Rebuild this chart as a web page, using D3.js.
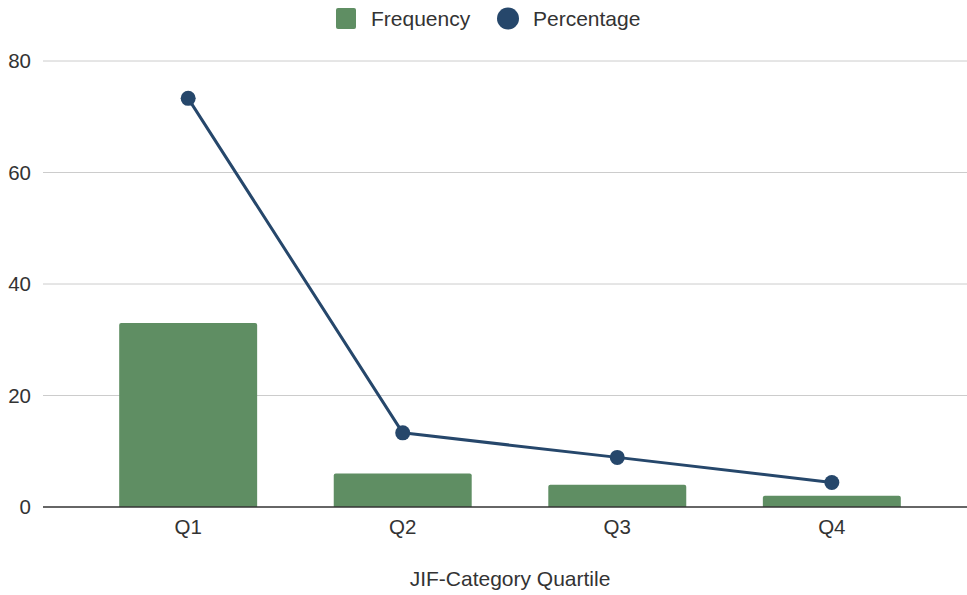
<!DOCTYPE html>
<html>
<head>
<meta charset="utf-8">
<script src="https://cdn.jsdelivr.net/npm/d3@7"></script>
<style>
  html, body { margin: 0; padding: 0; background: #fff; }
  svg { display: block; font-family: "Liberation Sans", Arial, sans-serif; }
</style>
</head>
<body>
<svg id="chart" width="967" height="595"></svg>
<script>
// Journal counts and share (%) by JIF category quartile
const quartiles = ["Q1", "Q2", "Q3", "Q4"];
const frequency = [33, 6, 4, 2];
const percentage = [73.3, 13.3, 8.9, 4.4];
const yTicks = [0, 20, 40, 60, 80];
const seriesNames = ["Frequency", "Percentage"];
const xTitle = "JIF-Category Quartile";

const barColor = "#5f8e63";
const lineColor = "#26476b";
const textColor = "#333333";

const svg = d3.select("#chart");
const W = 967;

const x = d3.scaleBand().domain(quartiles).range([81, 939]).paddingInner(0.357).paddingOuter(0.178);
const y = d3.scaleLinear().domain([0, 80]).range([507, 61]);

// Horizontal gridlines
svg.append("g").selectAll("line")
  .data(yTicks.filter(d => d !== 0))
  .join("line")
  .attr("x1", 43).attr("x2", W)
  .attr("y1", d => y(d)).attr("y2", d => y(d))
  .attr("stroke", "#cccccc").attr("stroke-width", 1);

// Y tick labels
svg.append("g").selectAll("text")
  .data(yTicks)
  .join("text")
  .attr("x", 31).attr("y", d => y(d))
  .attr("dy", "0.35em")
  .attr("text-anchor", "end")
  .attr("font-size", 20.5)
  .attr("fill", textColor)
  .text(d => d);

// Bars with slightly rounded top corners
const r = 2;
svg.append("g").selectAll("path")
  .data(quartiles.map((q, i) => ({ q, v: frequency[i] })))
  .join("path")
  .attr("fill", barColor)
  .attr("d", d => {
    const x0 = x(d.q), x1 = x0 + x.bandwidth();
    const yt = y(d.v), yb = y(0);
    return `M${x0},${yb}V${yt + r}Q${x0},${yt} ${x0 + r},${yt}H${x1 - r}Q${x1},${yt} ${x1},${yt + r}V${yb}Z`;
  });

// Baseline axis
svg.append("line")
  .attr("x1", 43).attr("x2", W)
  .attr("y1", y(0)).attr("y2", y(0))
  .attr("stroke", "#333333").attr("stroke-width", 1.5);

// X category labels
svg.append("g").selectAll("text")
  .data(quartiles)
  .join("text")
  .attr("x", d => x(d) + x.bandwidth() / 2)
  .attr("y", 534)
  .attr("text-anchor", "middle")
  .attr("font-size", 20.5)
  .attr("fill", textColor)
  .text(d => d);

// Percentage line and markers
const pts = quartiles.map((q, i) => ({ q, v: percentage[i] }));
const line = d3.line().x(d => x(d.q) + x.bandwidth() / 2).y(d => y(d.v));
svg.append("path")
  .datum(pts)
  .attr("fill", "none")
  .attr("stroke", lineColor)
  .attr("stroke-width", 3)
  .attr("stroke-linejoin", "round")
  .attr("d", line);
svg.append("g").selectAll("circle")
  .data(pts)
  .join("circle")
  .attr("cx", d => x(d.q) + x.bandwidth() / 2)
  .attr("cy", d => y(d.v))
  .attr("r", 7.5)
  .attr("fill", lineColor);

// X axis title
svg.append("text")
  .attr("x", (x.range()[0] + x.range()[1]) / 2)
  .attr("y", 586)
  .attr("text-anchor", "middle")
  .attr("font-size", 21)
  .attr("fill", textColor)
  .text(xTitle);

// Legend
const legend = svg.append("g");
legend.append("rect")
  .attr("x", 336).attr("y", 8).attr("width", 20).attr("height", 21)
  .attr("rx", 2).attr("fill", barColor);
legend.append("text")
  .attr("x", 371).attr("y", 26)
  .attr("font-size", 21).attr("fill", textColor)
  .text(seriesNames[0]);
legend.append("circle")
  .attr("cx", 508).attr("cy", 18.5).attr("r", 11)
  .attr("fill", lineColor);
legend.append("text")
  .attr("x", 533).attr("y", 26)
  .attr("font-size", 21).attr("fill", textColor)
  .text(seriesNames[1]);
</script>
</body>
</html>
